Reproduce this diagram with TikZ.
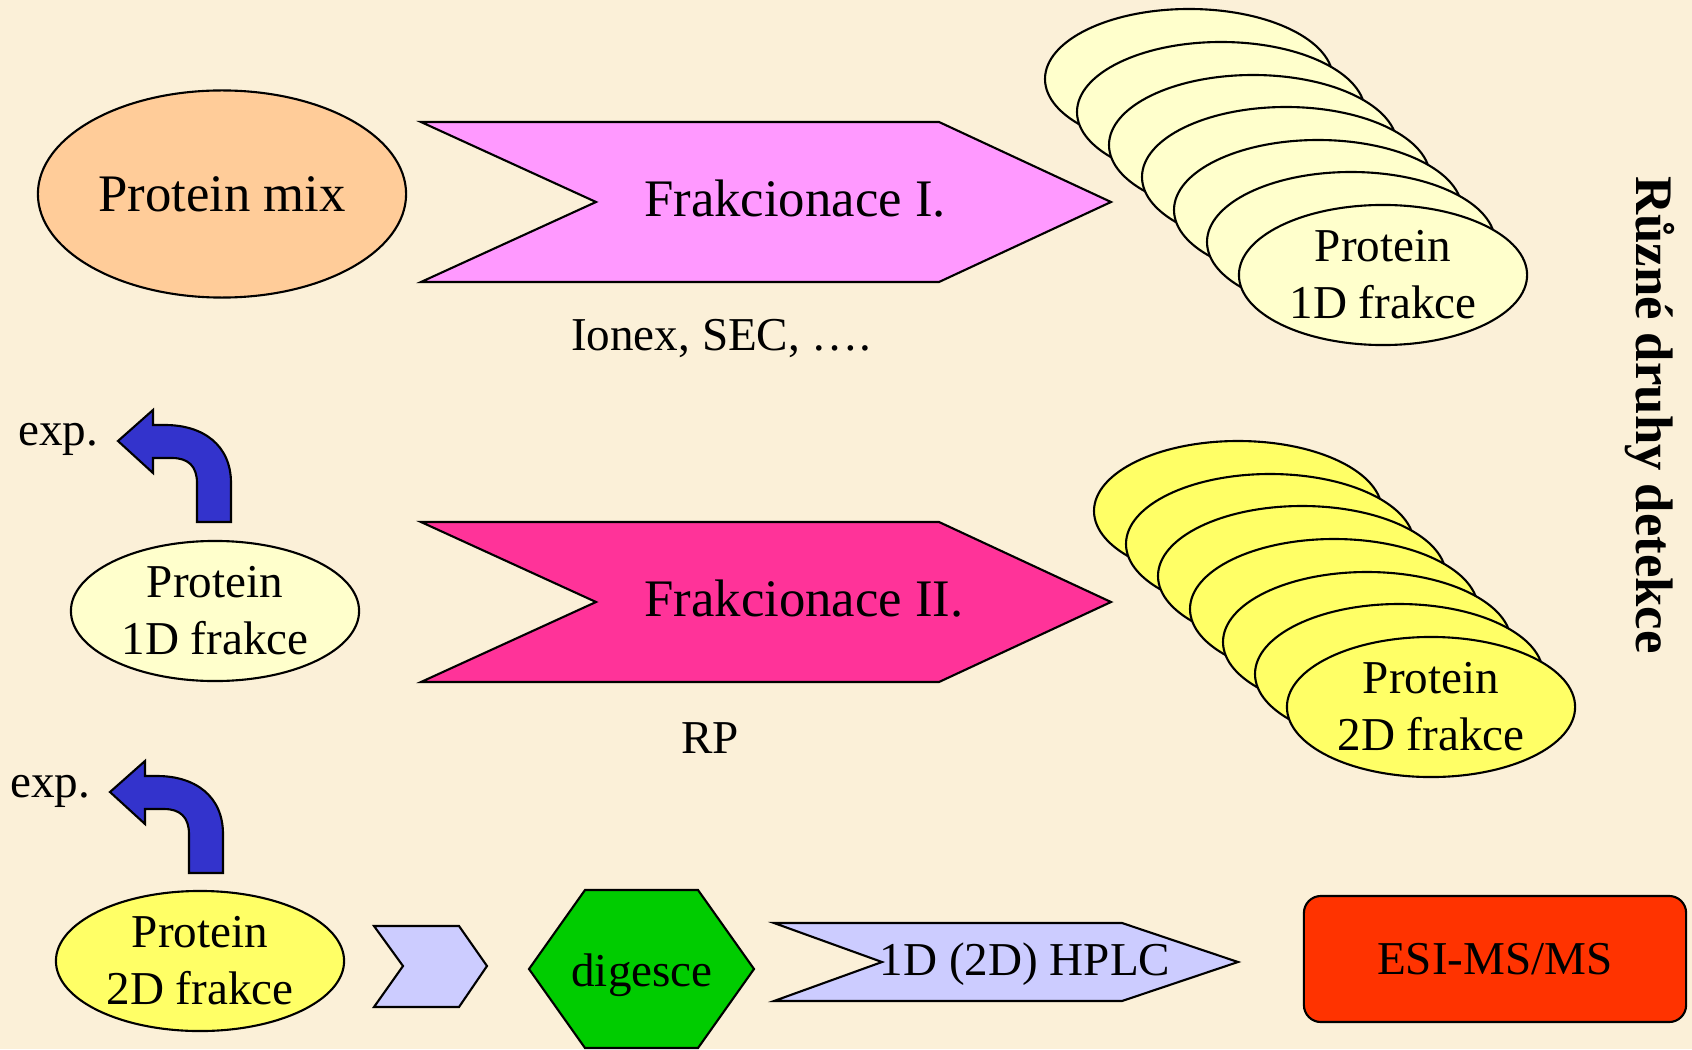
\documentclass[tikz,border=0pt]{standalone}
\usepackage{fontspec}
\setmainfont{Liberation Serif}
\usetikzlibrary{shapes.geometric}

\definecolor{parchment}{RGB}{251,240,216}
\definecolor{mixorange}{RGB}{255,204,153}
\definecolor{fracpink}{RGB}{255,153,255}
\definecolor{fracmagenta}{RGB}{255,51,153}
\definecolor{paleyellow}{RGB}{255,255,204}
\definecolor{brightyellow}{RGB}{255,255,102}
\definecolor{arrowblue}{RGB}{51,51,204}
\definecolor{lavender}{RGB}{204,204,255}
\definecolor{digestgreen}{RGB}{0,204,0}
\definecolor{msred}{RGB}{255,51,0}

\tikzset{
  outline/.style={draw=black, line width=0.6pt, line join=miter},
  bigtext/.style={font=\fontsize{15}{18}\selectfont},
  smalltext/.style={font=\fontsize{13.4}{16.2}\selectfont, align=center},
  blob/.style={ellipse, outline, inner sep=0pt, minimum width=2.88cm, minimum height=1.40cm, smalltext},
}

\begin{document}
\begin{tikzpicture}[x=0.01cm, y=-0.01cm]
  \useasboundingbox (0,0) rectangle (1692,1049);
  \fill [parchment] (0,0) rectangle (1692,1049);

  % first fractionation
  \node [ellipse, outline, fill=mixorange, inner sep=0pt, minimum width=3.68cm, minimum height=2.07cm, bigtext] (mix) at (222,194) {Protein mix};

  \filldraw [outline, fill=fracpink] (421,122) -- (939,122) -- (1111,202) -- (939,282) -- (421,282) -- (596,202) -- cycle;
  \node [bigtext] (frakI) at (795,199) {Frakcionace I.};
  \node [smalltext] (ionex) at (721,339) {Ionex, SEC, ….};

  \filldraw [outline, fill=paleyellow] (1189,79) ellipse [x radius=144, y radius=70];
  \filldraw [outline, fill=paleyellow] (1221,112) ellipse [x radius=144, y radius=70];
  \filldraw [outline, fill=paleyellow] (1253,145) ellipse [x radius=144, y radius=70];
  \filldraw [outline, fill=paleyellow] (1286,177) ellipse [x radius=144, y radius=70];
  \filldraw [outline, fill=paleyellow] (1318,210) ellipse [x radius=144, y radius=70];
  \filldraw [outline, fill=paleyellow] (1351,242) ellipse [x radius=144, y radius=70];
  \node [blob, fill=paleyellow] (stackI) at (1383,275) {Protein\\1D frakce};

  % second fractionation
  \node [blob, fill=paleyellow] (oneD) at (215,611) {Protein\\1D frakce};
  \filldraw [outline, fill=arrowblue] (197,522) -- (197,483) .. controls (197,466) and (188,458) .. (172,458) -- (153,458) -- (153,473) -- (118,441) -- (153,410) -- (153,425) -- (165,425) .. controls (203,425) and (231,445) .. (231,483) -- (231,522) -- cycle;
  \node [smalltext] (expI) at (58,439) {exp.};

  \filldraw [outline, fill=fracmagenta] (421,522) -- (939,522) -- (1111,602) -- (939,682) -- (421,682) -- (596,602) -- cycle;
  \node [bigtext] (frakII) at (804,599) {Frakcionace II.};
  \node [smalltext] (rp) at (710,738) {RP};

  \filldraw [outline, fill=brightyellow] (1238,511) ellipse [x radius=144, y radius=70];
  \filldraw [outline, fill=brightyellow] (1270,544) ellipse [x radius=144, y radius=70];
  \filldraw [outline, fill=brightyellow] (1302,576) ellipse [x radius=144, y radius=70];
  \filldraw [outline, fill=brightyellow] (1334,609) ellipse [x radius=144, y radius=70];
  \filldraw [outline, fill=brightyellow] (1367,642) ellipse [x radius=144, y radius=70];
  \filldraw [outline, fill=brightyellow] (1399,674) ellipse [x radius=144, y radius=70];
  \node [blob, fill=brightyellow] (stackII) at (1431,707) {Protein\\2D frakce};

  % digestion and detection
  \node [blob, fill=brightyellow] (twoD) at (200,961) {Protein\\2D frakce};
  \filldraw [outline, fill=arrowblue] (189,873) -- (189,834) .. controls (189,817) and (180,809) .. (164,809) -- (145,809) -- (145,824) -- (110,792) -- (145,761) -- (145,776) -- (157,776) .. controls (195,776) and (223,796) .. (223,834) -- (223,873) -- cycle;
  \node [smalltext] (expII) at (50,791) {exp.};

  \filldraw [outline, fill=lavender] (374,926) -- (459,926) -- (487,966) -- (459,1007) -- (374,1007) -- (403,966) -- cycle;

  \filldraw [outline, fill=digestgreen] (585,890) -- (698,890) -- (754,969) -- (698,1048) -- (585,1048) -- (529,969) -- cycle;
  \node [smalltext] (digest) at (642,975) {digesce};

  \filldraw [outline, fill=lavender] (774,923) -- (1122,923) -- (1238,962) -- (1122,1001) -- (774,1001) -- (882,962) -- cycle;
  \node [smalltext] (hplc) at (1025,964) {1D (2D) HPLC};

  \node [rectangle, rounded corners=0.17cm, outline, fill=msred, minimum width=3.82cm, minimum height=1.26cm, smalltext] (esi) at (1495,959) {ESI-MS/MS};

  \node [font=\bfseries\fontsize{15}{18}\selectfont, rotate=-90] (detekce) at (1650,415) {Různé druhy detekce};
\end{tikzpicture}
\end{document}
